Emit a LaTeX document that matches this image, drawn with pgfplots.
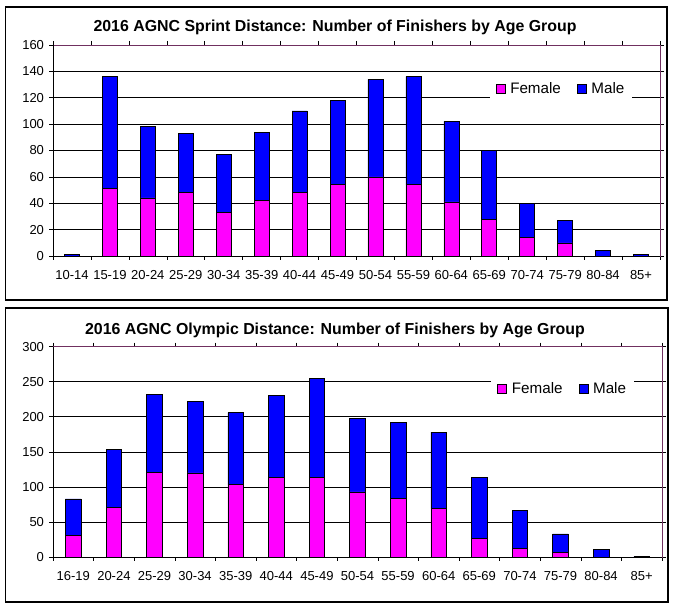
\documentclass[border=0pt]{standalone}
\usepackage{pgfplots}
\pgfplotsset{compat=1.18}
\usepackage{fontspec}
\setmainfont{Liberation Sans}
\definecolor{fem}{RGB}{255,0,255}
\definecolor{mal}{RGB}{0,0,255}
\definecolor{frm}{RGB}{112,48,96}

\pgfplotstableread{
x F M
0 0 1
1 51 85
2 44 54
3 48 45
4 33 44
5 42 52
6 48 62
7 54 64
8 60 74
9 54 82
10 41 61
11 28 52
12 14 26
13 10 17
14 0 4
15 0 1
}\sprint

\pgfplotstableread{
x F M
0 31 52
1 71 83
2 121 111
3 120 102
4 103 103
5 114 117
6 113 142
7 93 105
8 84 108
9 69 109
10 26 87
11 12 54
12 7 26
13 0 11
14 0 1
}\olympic

\pgfplotsset{
  mystyle/.style={
    scale only axis,
    anchor=south west,
    ybar stacked,
    ymin=0,
    tick align=outside,
    major tick length=4pt,
    minor tick length=4pt,
    ymajorgrids,
    grid style={black, line width=0.6pt},
    axis line style={frm, line width=0.8pt},
    major x tick style={draw=none},
    minor x tick style={black, line width=0.6pt},
    major y tick style={black, line width=0.6pt},
    xtick=data,
    ticklabel style={font=\fontsize{13}{15}\selectfont},
    /pgf/number format/assume math mode=true,
    xticklabel shift=6.5pt,
    yticklabel shift=1.5pt,
    legend columns=2,
    legend style={draw=none, fill=white, font=\fontsize{15.2}{17}\selectfont,
      inner xsep=6pt, inner ysep=9pt, anchor=center,
      /tikz/every odd column/.append style={column sep=3pt},
      /tikz/every even column/.append style={column sep=14pt}},
    legend image code/.code={\draw[##1, draw=black, line width=0.5pt] (0pt,-4.5pt) rectangle (9pt,4.5pt);},
    every axis plot/.append style={draw=black, line width=0.6pt},
    clip=false,
  }
}

\begin{document}
\begin{tikzpicture}[x=1pt,y=1pt]
\useasboundingbox (0,0) rectangle (678,605);
\draw[line width=1.2pt] (5.5,598) rectangle (667,305);
\draw[line width=1.2pt] (5.5,297) rectangle (668,3);
\node[font=\bfseries\fontsize{15.9}{18}\selectfont] at (335,577.5) {2016 AGNC Sprint Distance: Number of Finishers by Age Group};
\node[font=\bfseries\fontsize{15.9}{18}\selectfont] at (335,275) {2016 AGNC Olympic Distance: Number of Finishers by Age Group};

\begin{axis}[mystyle,
  at={(53pt,349pt)}, width=607pt, height=211pt,
  xmin=-0.5, xmax=15.5, ymax=160,
  ytick={0,20,...,160},
  minor xtick={-0.5,0.5,...,15.5},
  xticklabels={10-14,15-19,20-24,25-29,30-34,35-39,40-44,45-49,50-54,55-59,60-64,65-69,70-74,75-79,80-84,85+},
  bar width=15pt,
  legend style={at={(0.837,0.791)}},
]
\addplot[fill=fem] table[x=x,y=F] {\sprint};
\addplot[fill=mal] table[x=x,y=M] {\sprint};
\legend{Female,Male}
\draw[black, line width=0.8pt] (rel axis cs:0,1) -- (rel axis cs:0,0) -- (rel axis cs:1,0);
\end{axis}

\begin{axis}[mystyle,
  at={(53pt,48pt)}, width=609pt, height=210.3pt,
  xmin=-0.5, xmax=14.5, ymax=300,
  ytick={0,50,...,300},
  minor xtick={-0.5,0.5,...,14.5},
  xticklabels={16-19,20-24,25-29,30-34,35-39,40-44,45-49,50-54,55-59,60-64,65-69,70-74,75-79,80-84,85+},
  bar width=15.7pt,
  legend style={at={(0.837,0.798)}},
]
\addplot[fill=fem] table[x=x,y=F] {\olympic};
\addplot[fill=mal] table[x=x,y=M] {\olympic};
\legend{Female,Male}
\draw[black, line width=0.8pt] (rel axis cs:0,1) -- (rel axis cs:0,0) -- (rel axis cs:1,0);
\end{axis}
\end{tikzpicture}
\end{document}
